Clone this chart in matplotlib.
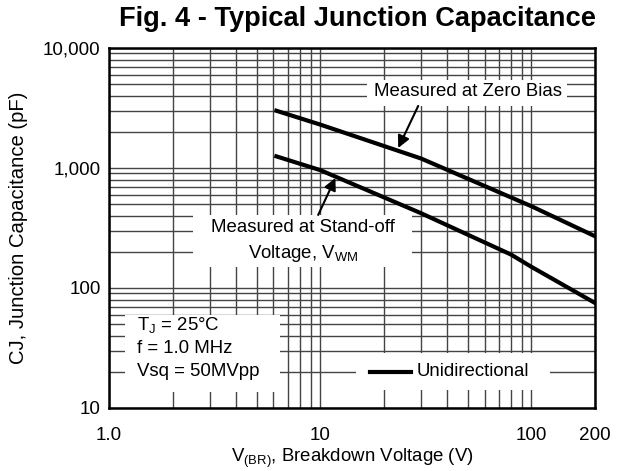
#Fig. 4 - Typical Junction Capacitance
import numpy as np
import matplotlib.pyplot as plt
from matplotlib.patches import Rectangle

plt.rcParams['font.family'] = ['Liberation Sans', 'DejaVu Sans']
plt.rcParams['mathtext.default'] = 'regular'

# 数据
v_zero = [6.2, 10, 30, 100, 200]          # Measured at Zero Bias
c_zero = [3000, 2300, 1200, 480, 270]
v_standoff = [6.2, 10, 30, 80, 100, 200]  # Measured at Stand-off Voltage
c_standoff = [1250, 960, 420, 190, 150, 75]

x_major = [1, 10, 100, 200]
x_major_labels = ['1.0', '10', '100', '200']
x_minor = [2, 3, 4, 5, 6, 7, 8, 9, 20, 30, 40, 50, 60, 70, 80, 90]
y_major = [10, 100, 1000, 10000]
y_major_labels = ['10', '100', '1,000', '10,000']
y_minor = [m * d for d in (10, 100, 1000) for m in range(2, 10)]

fig = plt.figure(figsize=(6.18, 4.71), dpi=100)
ax = fig.add_axes([0.1764, 0.1338, 0.7864, 0.7643])
ax.set_xscale('log')
ax.set_yscale('log')
ax.set_xlim(1, 200)
ax.set_ylim(10, 10000)

ax.set_xticks(x_major, x_major_labels)
ax.set_xticks(x_minor, minor=True)
ax.set_yticks(y_major, y_major_labels)
ax.set_yticks(y_minor, minor=True)
ax.xaxis.set_minor_formatter(plt.NullFormatter())
ax.yaxis.set_minor_formatter(plt.NullFormatter())
ax.tick_params(which='both', length=0, labelsize=13.6)
ax.tick_params(axis='x', pad=14)
ax.tick_params(axis='y', pad=6)
ax.grid(True, which='both', color='#444444', linewidth=1.0)
ax.set_axisbelow(True)
for s in ax.spines.values():
    s.set_linewidth(1.8)
    s.set_zorder(10)

# 白底框遮住网格
boxes = [(0.531, 0.839, 0.411, 0.072),   # zero bias
         (0.173, 0.392, 0.450, 0.144),   # stand-off
         (0.033, 0.044, 0.319, 0.214),   # conditions
         (0.508, 0.050, 0.399, 0.103)]   # legend
for (x0, y0, w, h) in boxes:
    ax.add_patch(Rectangle((x0, y0), w, h, transform=ax.transAxes,
                           facecolor='white', edgecolor='none', zorder=2))

ax.plot(v_zero, c_zero, 'k-', linewidth=3, zorder=3)
ax.plot(v_standoff, c_standoff, 'k-', linewidth=3, zorder=3)

fs = 13.4
ax.text(0.738, 0.878, 'Measured at Zero Bias', transform=ax.transAxes,
        ha='center', va='center', fontsize=fs, zorder=4)
ax.text(0.399, 0.500, 'Measured at Stand-off', transform=ax.transAxes,
        ha='center', va='center', fontsize=fs, zorder=4)
ax.text(0.399, 0.428, r'Voltage, V$_{WM}$', transform=ax.transAxes,
        ha='center', va='center', fontsize=fs, zorder=4)
ax.text(0.0576, 0.2306, r'T$_J$ = 25°C', transform=ax.transAxes,
        ha='left', va='center', fontsize=fs, zorder=4)
ax.text(0.0576, 0.1639, 'f = 1.0 MHz', transform=ax.transAxes,
        ha='left', va='center', fontsize=fs, zorder=4)
ax.text(0.0576, 0.1000, 'Vsq = 50MVpp', transform=ax.transAxes,
        ha='left', va='center', fontsize=fs, zorder=4)

# 图例
ax.plot([0.537, 0.621], [0.100, 0.100], 'k-', linewidth=3,
        transform=ax.transAxes, zorder=4)
ax.text(0.632, 0.100, 'Unidirectional', transform=ax.transAxes,
        ha='left', va='center', fontsize=fs, zorder=4)

# 箭头
ax.annotate('', xy=(23.4, 1468), xytext=(29.1, 3288), xycoords='data',
            arrowprops=dict(arrowstyle='-|>', color='k', lw=1.5,
                            mutation_scale=18, shrinkA=0, shrinkB=0), zorder=5)
ax.annotate('', xy=(11.8, 826), xytext=(9.78, 406), xycoords='data',
            arrowprops=dict(arrowstyle='-|>', color='k', lw=1.5,
                            mutation_scale=18, shrinkA=0, shrinkB=0), zorder=5)

fig.text(357 / 618, 1 - 19 / 471, 'Fig. 4 - Typical Junction Capacitance',
         ha='center', va='center', fontsize=19.6, fontweight='bold')
fig.text(19 / 618, 1 - 228 / 471, 'CJ, Junction Capacitance (pF)',
         ha='center', va='center', rotation=90, fontsize=14.6)
fig.text(352 / 618, 1 - 458 / 471, r'V$_{(BR)}$, Breakdown Voltage (V)',
         ha='center', va='center', fontsize=fs)

plt.savefig('out.png', dpi=100)
